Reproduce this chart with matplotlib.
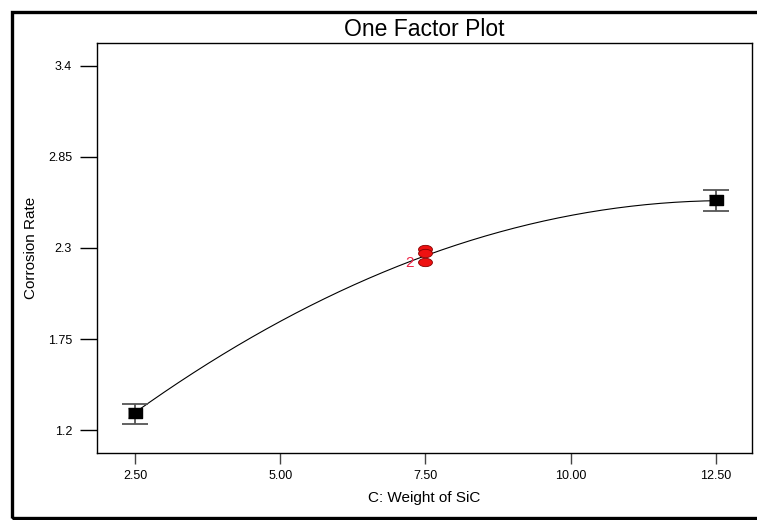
import matplotlib.pyplot as plt
from matplotlib.patches import Rectangle
import numpy as np

plt.rcParams['font.family'] = ['Liberation Sans', 'DejaVu Sans']

# design points
x_design = [2.5, 12.5]
y_design = [1.303, 2.590]
y_err_lo = [1.236, 2.524]
y_err_hi = [1.357, 2.652]

# centre replicates at 7.5
x_center = [7.5, 7.5, 7.5]
y_center = [2.292, 2.272, 2.213]

# points
curve_x = [2.5, 5.0, 7.5, 10.0, 12.5]
curve_y = [1.303, 1.860, 2.258, 2.487, 2.590]

xticks = [2.5, 5.0, 7.5, 10.0, 12.5]
yticks = [1.2, 1.75, 2.3, 2.85, 3.4]

W, H = 757, 520
fig = plt.figure(figsize=(W / 100, H / 100), dpi=100)
ax = fig.add_axes([97 / W, 1 - 453 / H, (752 - 97) / W, (453 - 43) / H])

# outer frame
fig.patches.append(Rectangle((11.5 / W, 1 - 518 / H), 1.2, (518 - 11.5) / H,
                             transform=fig.transFigure, fill=False,
                             edgecolor='black', linewidth=2.4, zorder=0))

# smooth fitted curve
coef = np.polyfit(curve_x, curve_y, 2)
xs = np.linspace(2.5, 12.5, 200)
ax.plot(xs, np.polyval(coef, xs), color='black', linewidth=0.8, zorder=2)

# error bars
yerr = [np.array(y_design) - np.array(y_err_lo), np.array(y_err_hi) - np.array(y_design)]
ax.errorbar(x_design, y_design, yerr=yerr, fmt='none', ecolor='#555555',
            elinewidth=1.3, capsize=9.5, capthick=1.3, zorder=3)

rect = [(-1, -0.62), (1, -0.62), (1, 0.62), (-1, 0.62)]
ax.plot(x_design, y_design, linestyle='none', marker=rect, markersize=10.5,
        color='black', zorder=4)

t = np.linspace(0, 2 * np.pi, 40)
ell = list(zip(np.cos(t), 0.6 * np.sin(t)))
ax.plot(x_center, y_center, linestyle='none', marker=ell, markersize=10,
        markerfacecolor='#ee1111', markeredgecolor='#880000', markeredgewidth=0.6, zorder=5)
ax.text(7.5 - 0.28, y_center[2] - 0.005, '2', color='#ee2244', fontsize=11,
        ha='center', va='center', zorder=6)

ax.set_xlim(1.846, 13.12)
ax.set_ylim(1.061, 3.539)
ax.set_xticks(xticks)
ax.set_xticklabels(['%.2f' % v for v in xticks], fontsize=9)
ax.set_yticks(yticks)
ax.set_yticklabels(['%g' % v for v in yticks], fontsize=9)
ax.tick_params(axis='x', direction='out', length=8, width=1.0, pad=4, color='#444444')
ax.tick_params(axis='y', direction='out', length=12, width=1.0, pad=6)
for s in ax.spines.values():
    s.set_linewidth(1.0)

ax.set_title('One Factor Plot', fontsize=16.5, pad=5)
ax.set_xlabel('C: Weight of SiC', fontsize=11, labelpad=7)
ax.set_ylabel('Corrosion Rate', fontsize=11, labelpad=7)

fig.savefig('out.png', dpi=100)
